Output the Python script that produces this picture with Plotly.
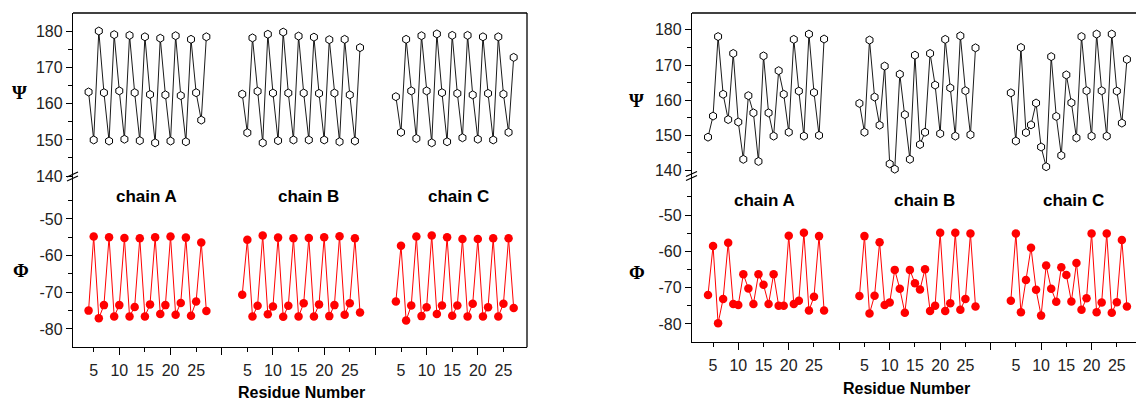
import plotly.graph_objects as go

# ---------------- data ----------------
residues = list(range(4, 28))          # 24 residues per chain
chain_names = ["chain A", "chain B", "chain C"]
chain_offsets = [0, 30, 60]            # chains placed side by side on one axis
tick_residues = [5, 10, 15, 20, 25]

# Left panel
psi_left_A = [163.3, 150.0, 180.2, 163.1, 149.7, 179.2, 163.6, 150.2, 179.0, 163.1, 149.8, 178.6,
              162.6, 149.2, 178.2, 162.5, 149.7, 178.9, 162.3, 149.5, 177.9, 163.1, 155.5, 178.6]
psi_left_B = [162.7, 152.0, 178.3, 163.5, 149.2, 179.3, 163.0, 149.8, 179.9, 163.0, 150.0, 178.8,
              163.0, 150.0, 178.5, 162.9, 150.0, 177.8, 163.0, 149.5, 177.9, 162.5, 149.7, 175.6]
psi_left_C = [162.0, 152.1, 177.9, 163.6, 150.4, 178.9, 163.6, 149.2, 179.4, 163.1, 149.5, 179.0,
              162.9, 150.6, 179.0, 162.5, 150.2, 178.6, 162.9, 150.0, 178.6, 162.7, 152.1, 172.9]
phi_left_A = [-75.0, -54.8, -77.1, -73.5, -55.0, -76.6, -73.5, -55.2, -76.6, -74.0, -55.3, -76.6,
              -73.3, -55.0, -75.9, -73.5, -54.8, -76.1, -72.9, -55.1, -76.4, -72.5, -56.4, -75.1]
phi_left_B = [-70.7, -55.7, -76.6, -73.7, -54.5, -76.0, -73.9, -55.1, -76.7, -73.7, -55.3, -76.6,
              -73.0, -55.2, -76.6, -73.3, -55.0, -76.5, -73.5, -54.7, -76.1, -73.0, -55.3, -75.5]
phi_left_C = [-72.5, -57.3, -77.7, -73.6, -54.8, -76.5, -74.1, -54.5, -75.9, -73.6, -55.0, -76.4,
              -73.6, -55.5, -76.6, -73.1, -55.5, -76.6, -74.1, -55.3, -76.6, -73.1, -55.3, -74.3]

# Right panel
psi_right_A = [149.5, 155.5, 178.1, 161.7, 154.5, 173.3, 153.8, 143.2, 161.3, 156.4, 142.6, 172.6,
               156.4, 149.8, 168.4, 161.7, 150.9, 177.3, 162.6, 149.8, 178.8, 162.2, 150.0, 177.4]
psi_right_B = [159.1, 150.9, 177.1, 160.9, 152.9, 169.7, 141.9, 140.4, 167.4, 155.9, 143.2, 172.8,
               147.4, 150.9, 173.3, 164.3, 150.5, 177.3, 163.5, 149.8, 178.3, 162.7, 150.2, 174.9]
psi_right_C = [162.1, 148.4, 175.0, 150.8, 153.0, 159.2, 146.7, 141.1, 172.4, 155.4, 144.3, 167.2,
               159.3, 149.3, 178.1, 162.7, 149.8, 178.8, 162.7, 149.8, 178.8, 162.6, 153.5, 171.6]
phi_right_A = [-72.0, -58.5, -79.8, -73.1, -57.6, -74.5, -74.8, -66.3, -70.2, -74.5, -66.3, -69.2,
               -74.5, -66.3, -75.0, -75.0, -55.7, -74.5, -73.6, -54.9, -76.3, -72.5, -55.8, -76.3]
phi_right_B = [-72.3, -55.8, -77.1, -72.2, -57.5, -74.8, -74.1, -65.1, -70.3, -76.9, -65.1, -68.8,
               -70.5, -64.9, -76.4, -75.0, -54.9, -76.4, -74.3, -54.9, -76.1, -73.1, -55.1, -75.2]
phi_right_C = [-73.6, -55.1, -76.8, -67.9, -59.0, -70.6, -77.7, -63.9, -70.3, -73.9, -64.4, -66.5,
               -73.8, -63.2, -76.1, -72.9, -55.1, -76.8, -74.1, -55.1, -76.9, -74.0, -56.9, -75.2]

psi_ticks = [140, 150, 160, 170, 180]
phi_ticks = [-80, -70, -60, -50]

# ---------------- layout helpers ----------------
W, H = 1136, 401
def X(p):
    return p / W
def Y(p):
    return 1 - p / H

FONT = "Liberation Sans, Arial, sans-serif"
SERIF = "Liberation Serif, Times New Roman, serif"
RED = "#ff0000"

fig = go.Figure()

panels = [
    dict(psi=[psi_left_A, psi_left_B, psi_left_C], phi=[phi_left_A, phi_left_B, phi_left_C],
         xa="x", xlab="x3", ya_phi="y", ya_psi="y2"),
    dict(psi=[psi_right_A, psi_right_B, psi_right_C], phi=[phi_right_A, phi_right_B, phi_right_C],
         xa="x2", xlab="x4", ya_phi="y3", ya_psi="y4"),
]

for pan in panels:
    for ci, off in enumerate(chain_offsets):
        xs = [r + off for r in residues]
        fig.add_trace(go.Scatter(
            x=xs, y=pan["psi"][ci], xaxis=pan["xa"], yaxis=pan["ya_psi"],
            mode="lines+markers", showlegend=False,
            line=dict(color="black", width=0.9),
            marker=dict(symbol="hexagon", size=8, color="white",
                        line=dict(color="black", width=1)),
            name="Ψ " + chain_names[ci]))
        fig.add_trace(go.Scatter(
            x=xs, y=pan["phi"][ci], xaxis=pan["xa"], yaxis=pan["ya_phi"],
            mode="lines+markers", showlegend=False,
            line=dict(color=RED, width=1),
            marker=dict(symbol="circle", size=8.5, color=RED, line=dict(width=0)),
            name="Φ " + chain_names[ci]))
    # empty trace so the tick-label axis is drawn
    fig.add_trace(go.Scatter(x=[], y=[], xaxis=pan["xlab"], yaxis=pan["ya_phi"],
                             showlegend=False, hoverinfo="skip"))

label_vals = [r + off for off in chain_offsets for r in tick_residues]
label_text = [str(r) for off in chain_offsets for r in tick_residues]

def yaxis_common(domain, rng, major, minor, anchor):
    return dict(domain=domain, range=rng, anchor=anchor, automargin=False,
                showline=True, linecolor="black", linewidth=1.3,
                ticks="outside", ticklen=6, tickwidth=1.3, tickcolor="black",
                tickmode="array", tickvals=major, ticktext=[str(v) for v in major],
                minor=dict(tickmode="array", tickvals=minor, ticks="outside",
                           ticklen=3.5, tickwidth=1.3, tickcolor="black"),
                showgrid=False, zeroline=False,
                tickfont=dict(family=FONT, size=16, color="#222"))

def xaxis_ticks(domain, rng, anchor):
    return dict(domain=domain, range=rng, anchor=anchor, automargin=False,
                showline=True, linecolor="black", linewidth=1.3,
                ticks="outside", tickmode="linear", tick0=0, dtick=10,
                ticklen=7, tickwidth=1.3, tickcolor="black",
                minor=dict(dtick=5, tick0=0, ticks="outside", ticklen=4,
                           tickwidth=1.3, tickcolor="black"),
                showticklabels=False, showgrid=False, zeroline=False)

def xaxis_labels(over, rng, anchor):
    return dict(overlaying=over, range=rng, anchor=anchor, automargin=False,
                showline=False, ticks="", tickmode="array",
                tickvals=label_vals, ticktext=label_text,
                ticklabelstandoff=12,
                showgrid=False, zeroline=False,
                tickfont=dict(family=FONT, size=16, color="#222"))

L_rng = [0.96, 89.6]
R_rng = [0.83, 88.8]

fig.update_layout(
    width=W, height=H, margin=dict(l=0, r=0, t=0, b=0, autoexpand=False),
    paper_bgcolor="white", plot_bgcolor="white",
    xaxis=xaxis_ticks([X(73), X(527)], L_rng, "y"),
    xaxis3=xaxis_labels("x", L_rng, "y"),
    yaxis=yaxis_common([Y(347.3), Y(176)], [-85, -38.3], phi_ticks, [-75, -65, -55, -45], "x"),
    yaxis2=yaxis_common([Y(176), Y(13)], [140, 185.2], psi_ticks, [145, 155, 165, 175], "x"),
    xaxis2=xaxis_ticks([X(692), 1.0], R_rng, "y3"),
    xaxis4=xaxis_labels("x2", R_rng, "y3"),
    yaxis3=yaxis_common([Y(342.3), Y(175.5)], [-85.05, -39.1], phi_ticks, [-75, -65, -55, -45], "x2"),
    yaxis4=yaxis_common([Y(175.5), Y(13)], [138.6, 184.8], psi_ticks, [145, 155, 165, 175], "x2"),
)

# frame lines and axis-break marks
shapes = []
def seg(x0, y0, x1, y1, w=1.3):
    shapes.append(dict(type="line", xref="paper", yref="paper",
                       x0=X(x0), y0=Y(y0), x1=X(x1), y1=Y(y1),
                       line=dict(color="black", width=w)))
seg(73, 13, 527, 13)          # left panel top
seg(527, 13, 527, 347.3)      # left panel right
seg(692, 13, 1136, 13)        # right panel top
for ax_x, ax_y in [(73, 176), (692, 175.5)]:
    seg(ax_x - 6, ax_y + 1, ax_x + 5, ax_y - 4, 1.2)
    seg(ax_x - 6, ax_y + 5, ax_x + 5, ax_y, 1.2)
fig.update_layout(shapes=shapes)

# text annotations
ann = []
def text(x, y, s, size, fam=FONT):
    ann.append(dict(xref="paper", yref="paper", x=X(x), y=Y(y), text=s,
                    showarrow=False, xanchor="center", yanchor="middle",
                    font=dict(family=fam, size=size, color="black")))
for name, cx in zip(chain_names, [146, 308, 458]):
    text(cx, 196, "<b>%s</b>" % name, 17)
for name, cx in zip(chain_names, [764, 924, 1073]):
    text(cx, 200, "<b>%s</b>" % name, 17)
text(301, 392, "<b>Residue Number</b>", 16)
text(906, 388, "<b>Residue Number</b>", 16)
text(19, 92, "<b>Ψ</b>", 19, SERIF)
text(21, 270, "<b>Φ</b>", 19, SERIF)
text(636, 100, "<b>Ψ</b>", 19, SERIF)
text(637, 272, "<b>Φ</b>", 19, SERIF)
fig.update_layout(annotations=ann)

fig.write_html("out.html", config={"displayModeBar": False},
               post_script="document.body.style.margin='0';")
